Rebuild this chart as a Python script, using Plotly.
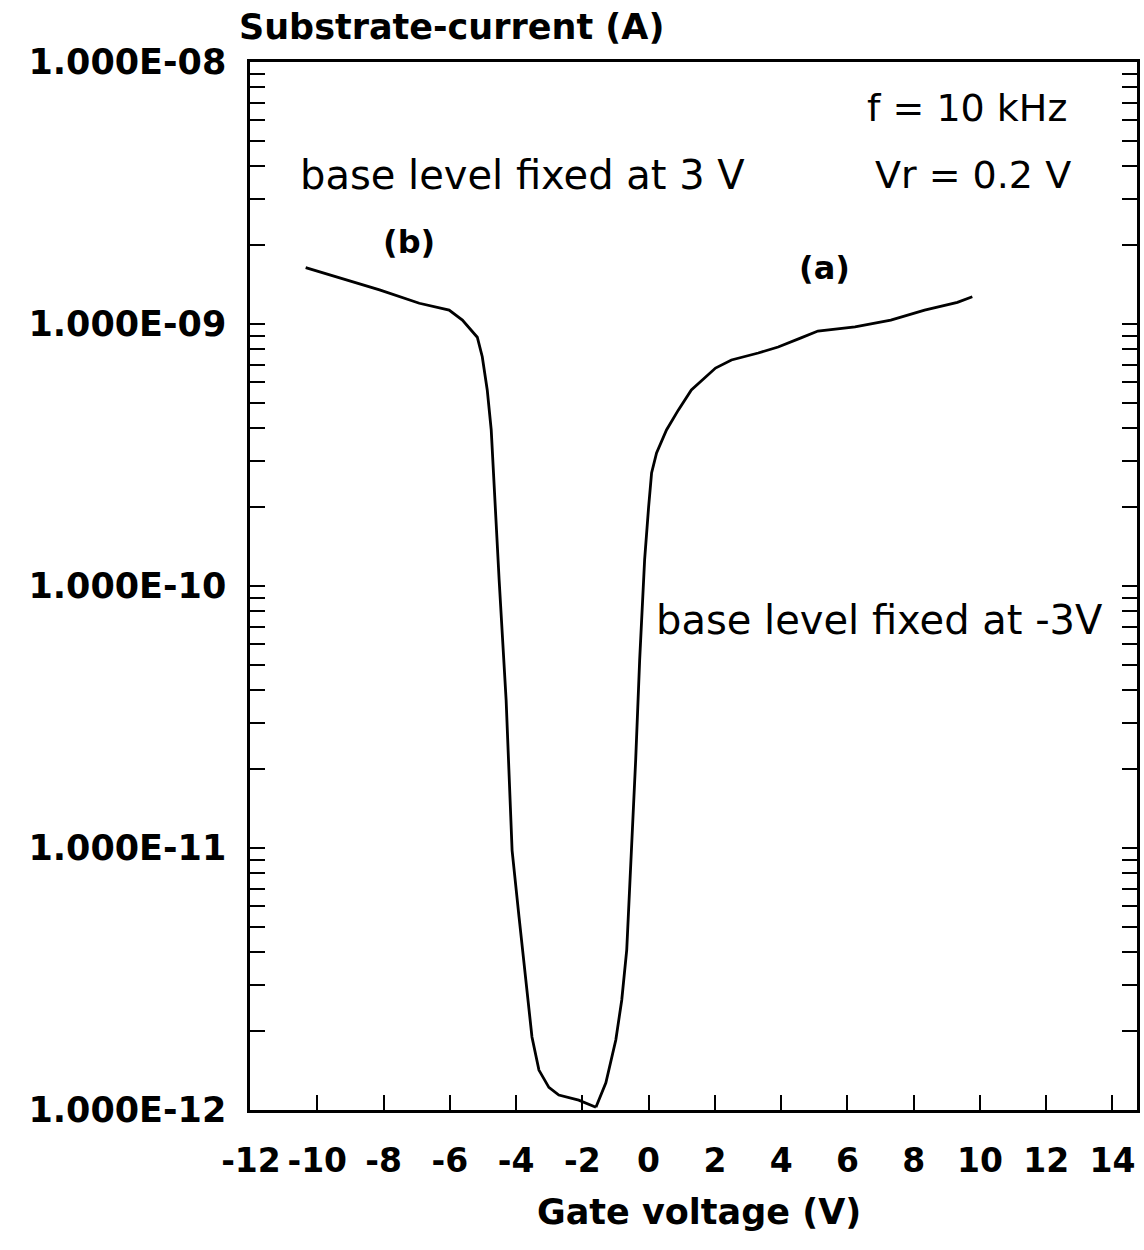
import plotly.graph_objects as go

# ---- data ----
gate_b = [-10.35, -9.32, -8.12, -6.92, -6.02, -5.62, -5.17, -5.02, -4.87, -4.75, -4.66,
          -4.51, -4.30, -4.12, -3.91, -3.70, -3.52, -3.31, -3.01, -2.71, -2.11, -1.59]
isub_b = [1.64e-9, 1.50e-9, 1.35e-9, 1.20e-9, 1.13e-9, 1.035e-9, 8.9e-10, 7.5e-10, 5.6e-10,
          3.94e-10, 2.32e-10, 1.05e-10, 3.67e-11, 9.8e-12, 5.45e-12, 3.05e-12, 1.90e-12,
          1.42e-12, 1.22e-12, 1.14e-12, 1.09e-12, 1.025e-12]

gate_a = [-1.59, -1.29, -0.99, -0.81, -0.66, -0.51, -0.39, -0.27, -0.12, 0.0, 0.09, 0.24,
          0.54, 0.90, 1.29, 2.02, 2.50, 3.31, 3.91, 4.60, 5.11, 6.23, 7.31, 8.33, 9.32, 9.77]
isub_a = [1.025e-12, 1.27e-12, 1.85e-12, 2.63e-12, 4.08e-12, 9.8e-12, 2.17e-11, 5.22e-11,
          1.26e-10, 2.0e-10, 2.70e-10, 3.22e-10, 3.94e-10, 4.70e-10, 5.60e-10, 6.79e-10,
          7.29e-10, 7.75e-10, 8.17e-10, 8.85e-10, 9.4e-10, 9.75e-10, 1.035e-9, 1.13e-9,
          1.21e-9, 1.27e-9]

x_ticks = [-12, -10, -8, -6, -4, -2, 0, 2, 4, 6, 8, 10, 12, 14]
x_tick_labels = ["-12", "-10", "-8", "-6", "-4", "-2", "0", "2", "4", "6", "8", "10", "12", "14"]
decades = [-12, -11, -10, -9, -8]
decade_labels = ["1.000E-12", "1.000E-11", "1.000E-10", "1.000E-09", "1.000E-08"]

y_tickvals, y_ticktext = [], []
for d, lab in zip(decades, decade_labels):
    y_tickvals.append(10.0 ** d)
    y_ticktext.append(lab)
    if d < -8:
        for m in range(2, 10):
            y_tickvals.append(m * 10.0 ** d)
            y_ticktext.append("")

# ---- figure ----
W, H = 1144, 1250
L, R, T, B = 250, 4, 62, 140
pw, ph = W - L - R, H - T - B

def px(xp):
    return (xp - L) / pw

def py(yp):
    return (H - B - yp) / ph

fig = go.Figure()
line_style = dict(color="black", width=2.8)
fig.add_trace(go.Scatter(x=gate_b, y=isub_b, mode="lines", line=line_style, showlegend=False))
fig.add_trace(go.Scatter(x=gate_a, y=isub_a, mode="lines", line=line_style, showlegend=False))

bold = dict(family="DejaVu Sans", size=35, color="black", weight="bold")
xbold = dict(family="DejaVu Sans", size=33, color="black", weight="bold")
reg = dict(family="DejaVu Sans", size=40, color="black")
reg_small = dict(family="DejaVu Sans", size=38, color="black")

fig.update_layout(
    width=W, height=H,
    margin=dict(l=L, r=R, t=T, b=B, pad=0),
    paper_bgcolor="white", plot_bgcolor="white",
    xaxis=dict(
        range=[-12.03, 14.74], tickvals=x_ticks, ticktext=x_tick_labels,
        ticks="inside", ticklen=15, tickwidth=2, tickcolor="black",
        showline=True, linecolor="black", linewidth=2.5, mirror=True,
        showgrid=False, zeroline=False, tickfont=xbold, ticklabelstandoff=20,
    ),
    yaxis=dict(
        type="log", range=[-12, -8], tickvals=y_tickvals, ticktext=y_ticktext,
        ticks="inside", ticklen=15, tickwidth=2, tickcolor="black",
        showline=True, linecolor="black", linewidth=2.5, mirror="allticks",
        showgrid=False, zeroline=False, tickfont=bold, ticklabelstandoff=14,
    ),
)

annots = [
    dict(text="Substrate-current (A)", x=px(237), y=py(27), xanchor="left", font=dict(bold, size=35)),
    dict(text="Gate voltage (V)", x=px(701), y=py(1212), xanchor="center", font=dict(bold, size=35)),
    dict(text="f = 10 kHz", x=px(1072), y=py(108), xanchor="right", font=reg_small),
    dict(text="Vr = 0.2 V", x=px(1076), y=py(175), xanchor="right", font=reg_small),
    dict(text="base level fixed at 3 V", x=px(298), y=py(175), xanchor="left", font=reg),
    dict(text="base level fixed at -3V", x=px(655), y=py(620), xanchor="left", font=reg),
    dict(text="(b)", x=px(410), y=py(242), xanchor="center", font=dict(bold, size=32)),
    dict(text="(a)", x=px(826), y=py(268), xanchor="center", font=dict(bold, size=32)),
]
for a in annots:
    fig.add_annotation(xref="paper", yref="paper", yanchor="middle", showarrow=False, **a)

fig.write_html("out.html")
